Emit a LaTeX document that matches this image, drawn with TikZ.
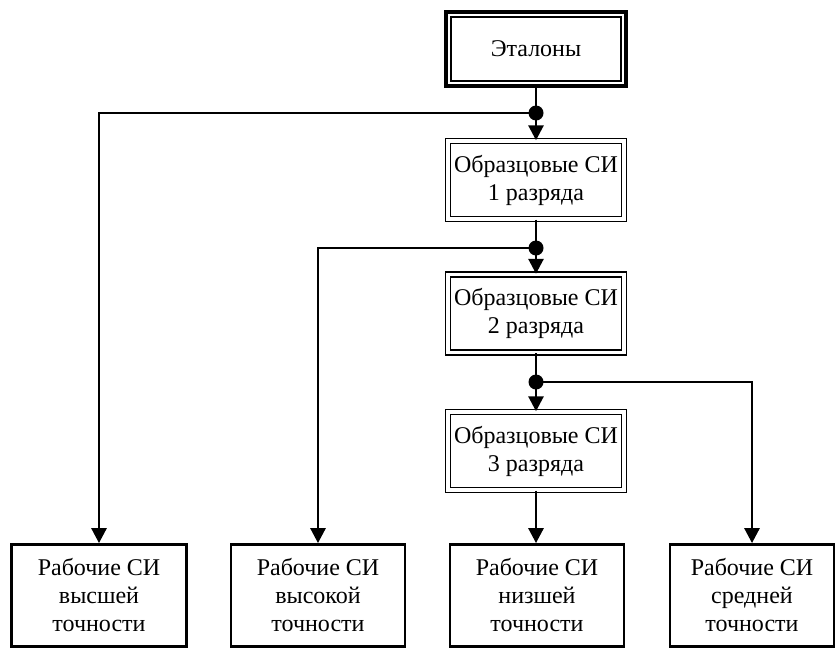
\documentclass[tikz,border=0pt]{standalone}
\usepackage{fontspec}
\setmainfont{Liberation Serif}
\usetikzlibrary{arrows.meta}
\begin{document}
\begin{tikzpicture}[x=1pt,y=-1pt,
  etbox/.style={draw,line width=4.8pt,minimum width=180pt,minimum height=74pt,inner sep=0pt,font=\fontsize{24}{28}\selectfont},
  midbox/.style={draw,double,double distance=3.5pt,line width=1.4pt,minimum width=176pt,minimum height=78pt,inner sep=0pt,align=center,font=\fontsize{24}{28}\selectfont},
  botbox/.style={draw,line width=2.8pt,minimum height=102pt,inner sep=0pt,align=center,font=\fontsize{24}{28}\selectfont},
  conn/.style={line width=2.8pt},
  arr/.style={conn,-{Triangle[width=15pt,length=15pt]}},
  dot/.style={circle,fill,inner sep=0pt,minimum size=15pt}
]
\useasboundingbox (0,0) rectangle (840,651);
\node[etbox] (et) at (536,49) {Эталоны};
\draw[line width=1.4pt] ([shift={(7.5pt,-7.5pt)}]et.north west) rectangle ([shift={(-7.5pt,7.5pt)}]et.south east);
\node[midbox] (o1) at (536,180) {Образцовые СИ\\1 разряда};
\node[midbox] (o2) at (536,313.5) {Образцовые СИ\\2 разряда};
\node[midbox] (o3) at (536,451) {Образцовые СИ\\3 разряда};
\node[botbox,minimum width=175pt] (r1) at (99,595.5) {Рабочие СИ\\высшей\\точности};
\node[botbox,minimum width=174pt] (r2) at (318,595.5) {Рабочие СИ\\высокой\\точности};
\node[botbox,minimum width=174pt] (r3) at (537,595.5) {Рабочие СИ\\низшей\\точности};
\node[botbox,minimum width=164pt] (r4) at (752,595.5) {Рабочие СИ\\средней\\точности};
\node[dot] (d1) at (536,113) {};
\node[dot] (d2) at (536,248) {};
\node[dot] (d3) at (536,382) {};
\draw[conn] (et.south) -- (d1.center);
\draw[arr] (d1.center) -- (o1.north);
\draw[arr] (d1.center) -| (r1.north);
\draw[conn] (o1.south) -- (d2.center);
\draw[arr] (d2.center) -- (o2.north);
\draw[arr] (d2.center) -| (r2.north);
\draw[conn] (o2.south) -- (d3.center);
\draw[arr] (d3.center) -- (o3.north);
\draw[arr] (d3.center) -| (r4.north);
\draw[arr] (o3.south) -- (o3.south |- r3.north);
\end{tikzpicture}
\end{document}
